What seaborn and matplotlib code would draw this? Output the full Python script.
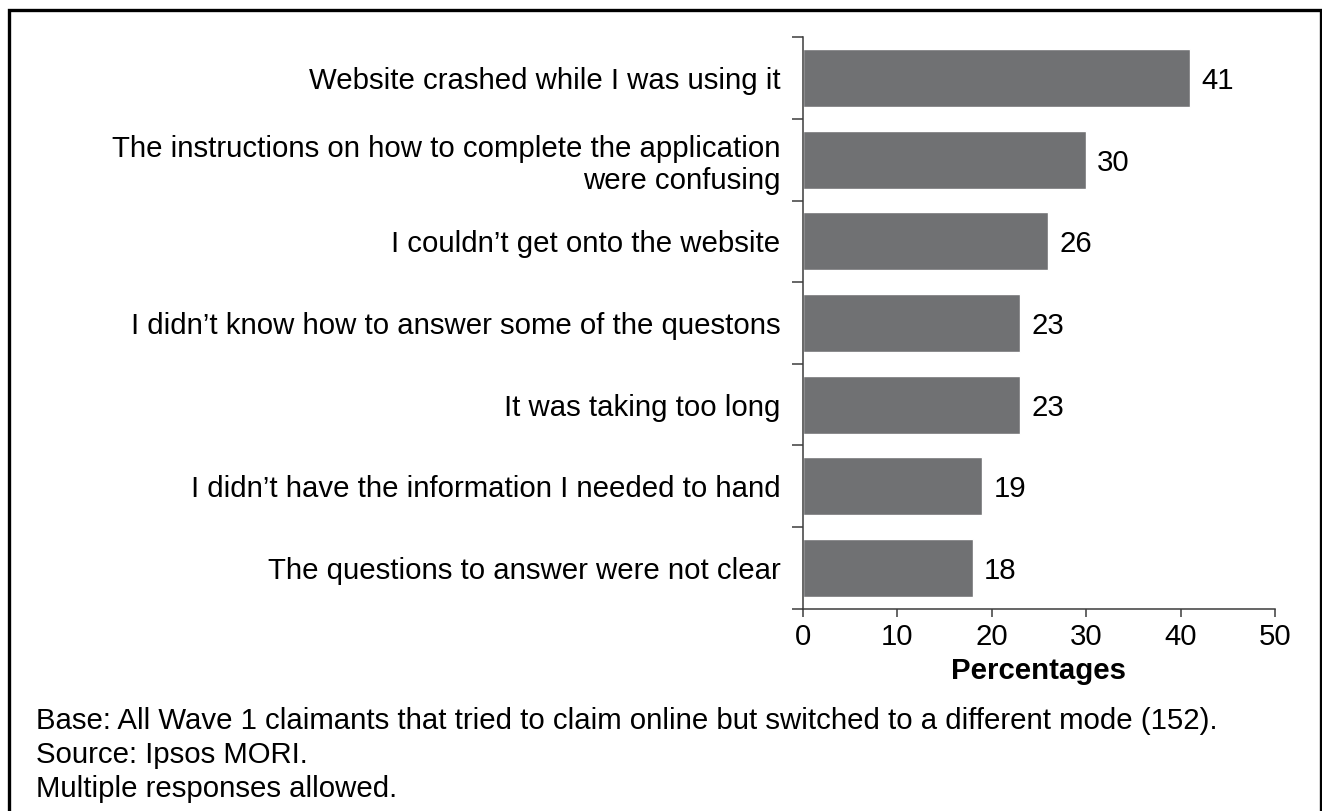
import matplotlib
matplotlib.use("Agg")
import matplotlib.pyplot as plt
import seaborn as sns
import pandas as pd
import numpy as np
from matplotlib.patches import Rectangle

# Reasons for switching away from the online claim
reasons = [
    "Website crashed while I was using it",
    "The instructions on how to complete the application\nwere confusing",
    "I couldn\u2019t get onto the website",
    "I didn\u2019t know how to answer some of the questons",
    "It was taking too long",
    "I didn\u2019t have the information I needed to hand",
    "The questions to answer were not clear",
]
percentages = [41, 30, 26, 23, 23, 19, 18]
x_ticks = [0, 10, 20, 30, 40, 50]

footnotes = [
    "Base: All Wave 1 claimants that tried to claim online but switched to a different mode (152).",
    "Source: Ipsos MORI.",
    "Multiple responses allowed.",
]

sns.set_style("white")
plt.rcParams["font.family"] = ["Liberation Sans", "DejaVu Sans"]
plt.rcParams["text.color"] = "black"
plt.rcParams["xtick.labelcolor"] = "black"
plt.rcParams["ytick.labelcolor"] = "black"
plt.rcParams["axes.labelcolor"] = "black"

W, H, DPI = 1322, 811, 100
fig = plt.figure(figsize=(W / DPI, H / DPI), dpi=DPI)
ax = fig.add_axes([802.7 / W, 1 - 608.5 / H, (1275 - 802.7) / W, (608.5 - 37.5) / H])

df = pd.DataFrame({"reason": reasons, "pct": percentages})
sns.barplot(data=df, x="pct", y="reason", orient="h", color="#707173",
            saturation=1, width=0.71, ax=ax)

FS = 21.2
axis_col = "#3c3c3c"

ax.set_xlim(0, 50)
ax.set_ylim(len(reasons) - 0.5, -0.5)
ax.set_xticks(x_ticks)
ax.set_xticklabels([str(t) for t in x_ticks], fontsize=FS)
ax.tick_params(axis="x", direction="out", length=5.5, width=1.1, color=axis_col,
               pad=5, bottom=True)

# category boundaries carry the tick marks; labels sit on the category centres
ax.set_yticks(np.arange(-0.5, len(reasons)), minor=False)
ax.set_yticklabels([""] * (len(reasons) + 1))
ax.set_yticks(np.arange(len(reasons)), minor=True)
ax.set_yticklabels(reasons, minor=True, fontsize=FS, ha="right")
ax.tick_params(axis="y", which="major", direction="out", length=8, width=1.1,
               color=axis_col, left=True)
ax.tick_params(axis="y", which="minor", length=0, pad=16, left=True)

ax.set_ylabel("")
ax.set_xlabel("Percentages", fontsize=FS, fontweight="bold", labelpad=4)

for side in ["top", "right"]:
    ax.spines[side].set_visible(False)
for side in ["left", "bottom"]:
    ax.spines[side].set_color(axis_col)
    ax.spines[side].set_linewidth(1.1)

texts = ax.bar_label(ax.containers[0], labels=[str(v) for v in percentages],
                     padding=8, fontsize=FS)
for t in texts:
    t.set_va("center_baseline")

# footnotes
for i, line in enumerate(footnotes):
    fig.text(36 / W, 1 - (729 + 34 * i) / H, line, fontsize=FS,
             ha="left", va="baseline")

# frame around the whole chart
fig.patches.append(Rectangle((8.5 / W, -0.05), (1320.5 - 8.5) / W, 1.05 - 10.5 / H,
                             transform=fig.transFigure, fill=False,
                             edgecolor="black", linewidth=2.4, zorder=10))

fig.savefig("out.png", dpi=DPI)
